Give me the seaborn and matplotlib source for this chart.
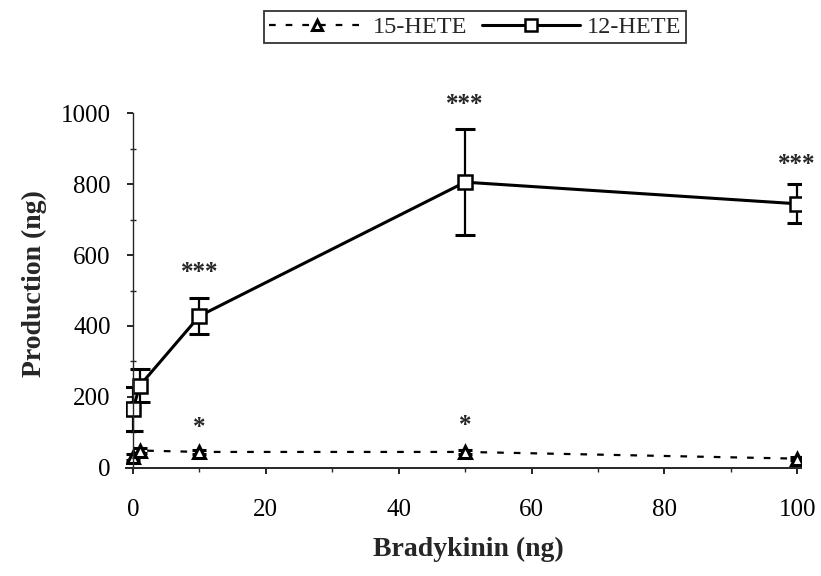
import numpy as np
import pandas as pd
import matplotlib
matplotlib.use("Agg")
import matplotlib.pyplot as plt
import seaborn as sns
from matplotlib.ticker import MultipleLocator

sns.set_theme(style="ticks")
plt.rcParams["font.family"] = ["Liberation Serif", "DejaVu Serif"]

# Bradykinin dose (ng)
dose = [0, 1, 10, 50, 100]

# 12-HETE production (ng), mean and SEM
hete12_mean = [165, 231, 428, 806, 745]
hete12_err = [61, 47, 51, 150, 55]

# 15-HETE production (ng), mean and SEM
hete15_mean = [30, 48, 44, 44, 25]
hete15_err = [8, 6, 5, 6, 5]

# significance marks
sig_x = [10, 50, 100, 10, 50]
sig_y = [550, 1025, 856, 112, 118]
sig_text = ["***", "***", "***", "*", "*"]

df = pd.DataFrame({
    "dose": dose * 2,
    "value": hete15_mean + hete12_mean,
    "series": ["15-HETE"] * len(dose) + ["12-HETE"] * len(dose),
})

W, H = 821, 576
fig = plt.figure(figsize=(W / 100, H / 100), dpi=100)
ax = fig.add_axes([126.4 / W, 1 - 467.5 / H, (800.5 - 126.4) / W, (467.5 - 113.5) / H])

sns.lineplot(data=df[df.series == "15-HETE"], x="dose", y="value", ax=ax,
             color="black", linestyle=(0, (3, 4.5)), linewidth=1.6,
             marker="^", markersize=8, markerfacecolor="white",
             markeredgecolor="black", markeredgewidth=2.2, label="15-HETE")
sns.lineplot(data=df[df.series == "12-HETE"], x="dose", y="value", ax=ax,
             color="black", linestyle="-", linewidth=2.2,
             marker="s", markersize=10.5, markerfacecolor="white",
             markeredgecolor="black", markeredgewidth=1.8, label="12-HETE")

ax.errorbar(dose, hete12_mean, yerr=hete12_err, fmt="none", ecolor="black",
            elinewidth=1.6, capsize=7, capthick=2.2, zorder=1)
ax.errorbar(dose, hete15_mean, yerr=hete15_err, fmt="none", ecolor="black",
            elinewidth=1.6, capsize=5, capthick=2.2, zorder=1)

for x, y, t in zip(sig_x, sig_y, sig_text):
    ax.text(x, y, t, ha="center", va="center", fontsize=18, fontweight="bold")

ax.set_xlim(-1, 100.5)
ax.set_ylim(0, 1000)
ax.spines["left"].set_position(("data", 0))
ax.spines["top"].set_visible(False)
ax.spines["right"].set_visible(False)
ax.spines["left"].set_linewidth(1.0)
ax.spines["left"].set_linestyle((0, (4, 1)))
ax.spines["bottom"].set_linewidth(1.4)

ax.set_xticks([0, 20, 40, 60, 80, 100])
ax.set_yticks([0, 200, 400, 600, 800, 1000])
ax.xaxis.set_minor_locator(MultipleLocator(10))
ax.yaxis.set_minor_locator(MultipleLocator(100))
ax.tick_params(axis="both", which="major", labelsize=18, color="black",
               labelcolor="black")
ax.tick_params(axis="x", which="major", direction="out", length=4, width=1.2, pad=19)
ax.tick_params(axis="x", which="minor", direction="out", length=3, width=1)
ax.tick_params(axis="y", which="major", direction="out", length=4, width=1.2, pad=12)
ax.tick_params(axis="y", which="minor", direction="inout", length=4, width=1)

ax.set_xlabel("Bradykinin (ng)", fontsize=20, fontweight="bold")
ax.xaxis.set_label_coords(0.507, -0.195)
ax.set_ylabel("Production (ng)", fontsize=20, fontweight="bold")
ax.yaxis.label.set_va("center")
ax.yaxis.set_label_coords(-0.136, 0.52)

leg = ax.legend(loc="center", bbox_to_anchor=(475 / W, 1 - 27 / H),
                bbox_transform=fig.transFigure, ncol=2, frameon=True,
                fancybox=False, edgecolor="black", fontsize=17.5,
                handlelength=4.0, handletextpad=0.3, columnspacing=0.6,
                borderpad=0.2, markerscale=0.85)
leg.get_frame().set_linewidth(1.3)

fig.savefig("out.png", dpi=100)
